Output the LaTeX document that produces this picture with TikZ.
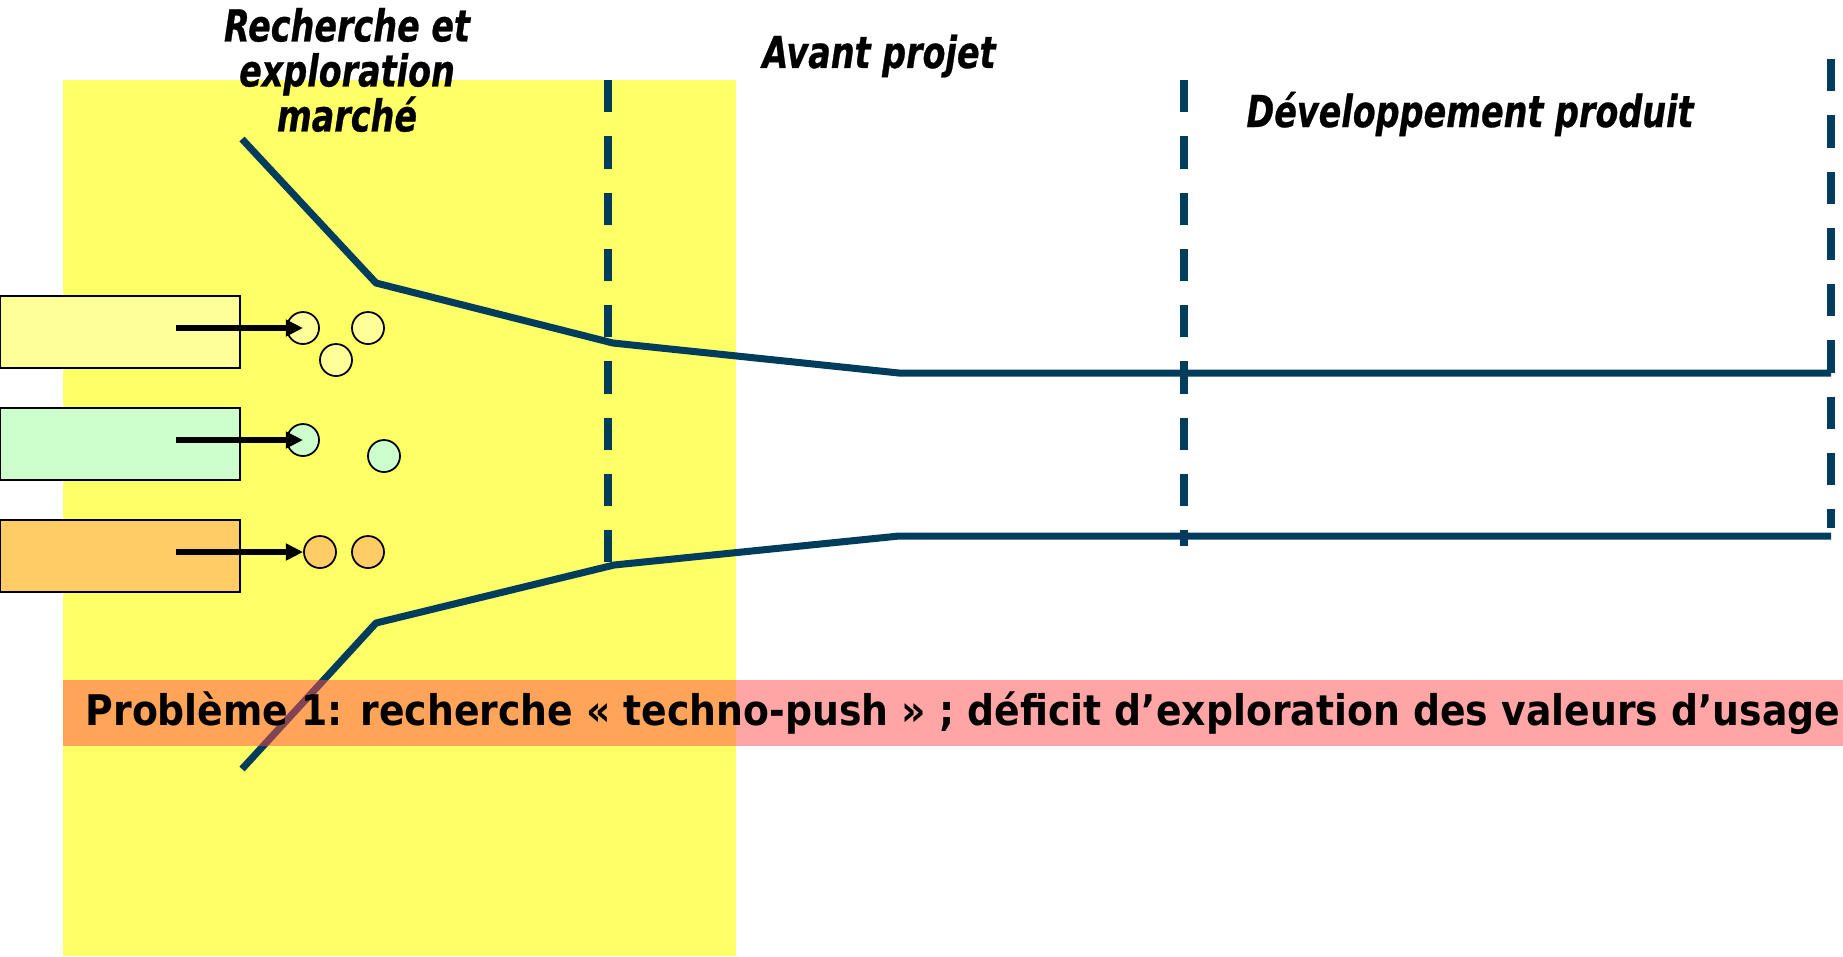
\documentclass[tikz,border=0pt]{standalone}
\usepackage{fontspec}
\setmainfont{DejaVu Sans}
\newfontfamily\titlefont[FakeStretch=0.76,FakeBold=0.6]{DejaVu Sans}
\newfontfamily\bandfont[FakeStretch=0.895]{DejaVu Sans}
\usetikzlibrary{arrows.meta}
\definecolor{zone}{HTML}{FFFF66}
\definecolor{funnel}{HTML}{003D5C}
\definecolor{srcA}{HTML}{FFFF99}
\definecolor{srcB}{HTML}{CCFFCC}
\definecolor{srcC}{HTML}{FFCC66}
\definecolor{alert}{RGB}{255,75,75}
\begin{document}
\begin{tikzpicture}[x=0.01cm,y=-0.01cm,
  funnelline/.style={funnel,line width=2pt,line join=round},
  phase/.style={funnel,line width=2.2pt,dash pattern=on 9.2pt off 6.8pt},
  srcbox/.style={draw,line width=0.5pt,minimum width=2.4cm,minimum height=0.72cm,inner sep=0pt},
  idea/.style={draw,circle,line width=0.5pt,minimum size=0.32cm,inner sep=0pt},
  feed/.style={line width=1.5pt,-{Triangle[length=4.9pt,width=4.6pt]}},
  title/.style={font=\titlefont\fontsize{12.5}{12.8}\selectfont\bfseries\itshape,align=center}]
\useasboundingbox (0,0) rectangle (1843,956);

% Exploration zone
\fill[zone] (63,80) rectangle (736,956);

% Sources
\node[srcbox,fill=srcA] (b1) at (120,332) {};
\node[srcbox,fill=srcB] (b2) at (120,444) {};
\node[srcbox,fill=srcC] (b3) at (120,556) {};

% Funnel
\draw[funnelline] (242,139) -- (376,283) -- (613,343) -- (899,373) -- (1831,373);
\draw[funnelline] (242,769) -- (376,623) -- (614,565) -- (899,536) -- (1831,536);

% Phase limits
\draw[phase] (608,80) -- (608,562);
\draw[phase] (1184,80) -- (1184,546);
\draw[phase] (1831,59) -- (1831,528);

% Ideas
\node[idea,fill=srcA] (a1) at (303,328) {};
\node[idea,fill=srcA] (a2) at (368,328) {};
\node[idea,fill=srcA] (a3) at (336,360) {};
\node[idea,fill=srcB] (g1) at (303,440) {};
\node[idea,fill=srcB] (g2) at (384,456) {};
\node[idea,fill=srcC] (o1) at (320,552) {};
\node[idea,fill=srcC] (o2) at (368,552) {};

\coordinate (s1) at (176,328);
\coordinate (s2) at (176,440);
\coordinate (s3) at (176,552);
\draw[feed] (s1) -- (a1.center);
\draw[feed] (s2) -- (g1.center);
\draw[feed] (s3) -- (o1.west);

% Problem band
\fill[alert,fill opacity=0.5] (63,680) rectangle (1843,746);
\node[anchor=west,font=\bandfont\fontsize{12}{14}\selectfont\bfseries,inner sep=0pt] (pb) at (85,713)
  {Problème 1: recherche « techno-push » ; déficit d’exploration des valeurs d’usage};

% Phase titles
\node[title] (t1) at (347,70) {Recherche et\\exploration\\marché};
\node[title] (t2) at (879,56) {Avant projet};
\node[title] (t3) at (1470,114) {Développement produit};
\end{tikzpicture}
\end{document}
